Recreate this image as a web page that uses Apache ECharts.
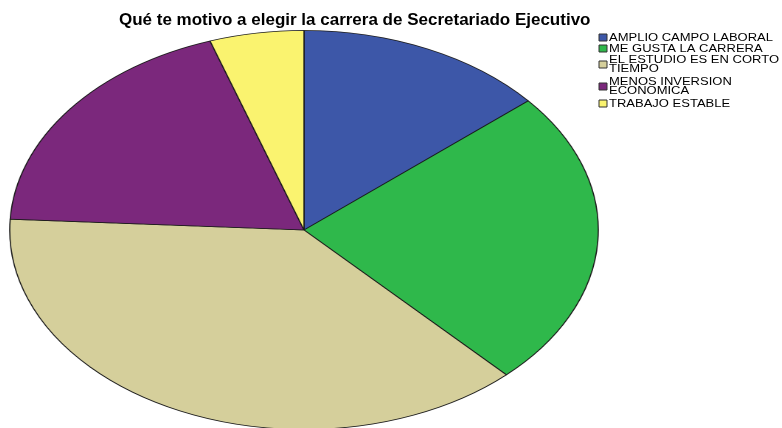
<!DOCTYPE html>
<html>
<head>
<meta charset="utf-8">
<script src="https://cdn.jsdelivr.net/npm/echarts@6/dist/echarts.min.js"></script>
<style>
  html, body { margin: 0; padding: 0; background: #fff; overflow: hidden; }
  #stage { position: relative; width: 782px; height: 428px; overflow: hidden; }
  /* The pie is drawn as a circle and stretched horizontally into an ellipse */
  #pie { position: absolute; left: 104px; top: 30px; width: 400px; height: 400px;
         transform-origin: 200px 200px; transform: scaleX(1.475); }
  #overlay { position: absolute; left: 0; top: 0; width: 782px; height: 428px; }
</style>
</head>
<body>
<div id="stage"><div id="pie"></div><div id="overlay"></div></div>
<script>
const titleText = 'Qué te motivo a elegir la carrera de Secretariado Ejecutivo';
const categories = [
  'AMPLIO CAMPO LABORAL',
  'ME GUSTA LA CARRERA',
  'EL ESTUDIO ES EN CORTO TIEMPO',
  'MENOS INVERSION ECONOMICA',
  'TRABAJO ESTABLE'
];
const legendLabels = [
  'AMPLIO CAMPO LABORAL',
  'ME GUSTA LA CARRERA',
  'EL ESTUDIO ES EN CORTO\nTIEMPO',
  'MENOS INVERSION\nECONOMICA',
  'TRABAJO ESTABLE'
];
const counts = [8, 14, 22, 11, 3];
const colors = ['#3d57a8', '#2fb84b', '#d5cf9b', '#7b287c', '#faf36f'];

const pieChart = echarts.init(document.getElementById('pie'), null, { devicePixelRatio: 2 });
pieChart.setOption({
  animation: false,
  series: [{
    type: 'pie',
    center: ['50%', '50%'],
    radius: [0, 199.5],
    startAngle: 90,
    clockwise: true,
    label: { show: false },
    labelLine: { show: false },
    emphasis: { disabled: true },
    itemStyle: { borderColor: '#1a1a1a', borderWidth: 0.8 },
    data: categories.map((name, i) => ({ name, value: counts[i], itemStyle: { color: colors[i] } }))
  }]
});

// Title and legend live on an unscaled layer above the pie
const rowCenters = [38, 49, 65, 87, 104];
const legendItems = [];
categories.forEach((name, i) => {
  const cy = rowCenters[i];
  legendItems.push({
    type: 'rect',
    shape: { x: 599, y: cy - 4, width: 8, height: 7 },
    style: { fill: colors[i], stroke: '#333', lineWidth: 1 }
  });
  legendItems.push({
    type: 'text',
    x: 609, y: cy,
    scaleX: 1.3,
    style: {
      text: legendLabels[i],
      fontSize: 10,
      fontFamily: 'Liberation Sans',
      lineHeight: 9,
      fill: '#000',
      verticalAlign: 'middle',
      textVerticalAlign: 'middle'
    }
  });
});

const overlay = echarts.init(document.getElementById('overlay'));
overlay.setOption({
  animation: false,
  title: {
    text: titleText,
    left: 119,
    top: 12,
    padding: 0,
    textStyle: { fontSize: 17, fontWeight: 'bold', fontFamily: 'Liberation Sans', color: '#000' }
  },
  graphic: legendItems
});
</script>
</body>
</html>
